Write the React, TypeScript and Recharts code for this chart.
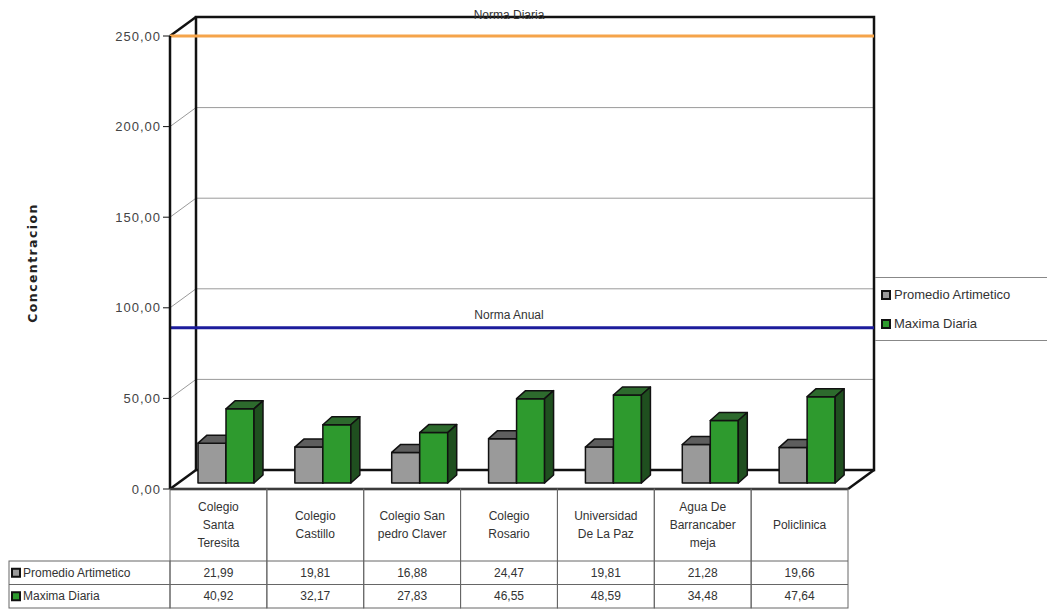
import React from "react";
import {
  BarChart,
  Bar,
  XAxis,
  YAxis,
  CartesianGrid,
  ReferenceLine,
  ReferenceArea,
  Legend,
} from "recharts";

const categories = [
  "Colegio Santa Teresita",
  "Colegio Castillo",
  "Colegio San pedro Claver",
  "Colegio Rosario",
  "Universidad De La Paz",
  "Agua De Barrancabermeja",
  "Policlinica",
];
const categoryLines = [
  ["Colegio", "Santa", "Teresita"],
  ["Colegio", "Castillo"],
  ["Colegio San", "pedro Claver"],
  ["Colegio", "Rosario"],
  ["Universidad", "De La Paz"],
  ["Agua De", "Barrancaber", "meja"],
  ["Policlinica"],
];
const seriesNames = ["Promedio Artimetico", "Maxima Diaria"];
const promedio = [21.99, 19.81, 16.88, 24.47, 19.81, 21.28, 19.66];
const maxima = [40.92, 32.17, 27.83, 46.55, 48.59, 34.48, 47.64];
const yTicks = [0, 50, 100, 150, 200, 250];
const normaDiaria = 250;
const normaAnual = 89;

const data = categories.map((name, i) => ({
  name,
  promedio: promedio[i],
  maxima: maxima[i],
}));

// depth of the back wall and of the bars
const WX = 26;
const WY = -19;
const SX = 8;
const SY = -6;
const DX = 9;
const DY = -8;

const FONT = "'Liberation Sans', Arial, sans-serif";
const fmt = (v: number) => v.toFixed(2).replace(".", ",");

const make3D = (front: string, top: string, side: string) => (props: any) => {
  const { x, y, width, height } = props;
  if (height == null || width == null) return <g />;
  const fx = x + SX;
  const fy = y + SY;
  return (
    <g stroke="#111" strokeWidth={1.5} strokeLinejoin="round">
      <rect x={fx} y={fy} width={width} height={height} fill={front} />
      <polygon
        points={`${fx},${fy} ${fx + DX},${fy + DY} ${fx + width + DX},${fy + DY} ${fx + width},${fy}`}
        fill={top}
      />
      <polygon
        points={`${fx + width},${fy} ${fx + width + DX},${fy + DY} ${fx + width + DX},${fy + height + DY} ${fx + width},${fy + height}`}
        fill={side}
      />
    </g>
  );
};

const Frame = (props: any) => {
  const { x, y, width, height } = props;
  const b = y + height;
  const r = x + width;
  return (
    <g stroke="#111" strokeWidth={2.5} fill="none">
      <polyline
        points={`${x + WX},${b + WY} ${x + WX},${y + WY} ${r + WX},${y + WY} ${r + WX},${b + WY} ${x + WX},${b + WY}`}
      />
      <line x1={x} y1={y} x2={x + WX} y2={y + WY} />
      <line x1={x} y1={b} x2={x + WX} y2={b + WY} />
      <line x1={r} y1={b} x2={r + WX} y2={b + WY} />
    </g>
  );
};

const GridLine = (props: any) => {
  const { x1, y1, x2, y2 } = props;
  return (
    <g stroke="#9a9a9a" strokeWidth={1}>
      <line x1={x1 + WX} y1={y1 + WY} x2={x2 + WX} y2={y2 + WY} />
      <line x1={x1} y1={y1} x2={x1 + WX} y2={y1 + WY} />
    </g>
  );
};

const normLine = (color: string) => (props: any) => {
  const { x1, y1, x2, y2 } = props;
  return <line x1={x1} y1={y1} x2={x2 + WX} y2={y2} stroke={color} strokeWidth={3} />;
};

const TableCell = (props: any) => {
  const { x, y, index, width } = props;
  const n = categories.length;
  const cw = (width || 678) / n;
  const left = x - cw / 2;
  const headH = 72;
  const rowH = 23.5;
  const lines = categoryLines[index] || [];
  const lh = 18;
  const startY = y + headH / 2 - ((lines.length - 1) * lh) / 2;
  const line = "#666";
  return (
    <g fontFamily={FONT} fontSize={12} fill="#333">
      <rect x={left} y={y} width={cw} height={headH + rowH * 2} fill="none" stroke={line} />
      <line x1={left} x2={left + cw} y1={y + headH} y2={y + headH} stroke={line} />
      <line x1={left} x2={left + cw} y1={y + headH + rowH} y2={y + headH + rowH} stroke={line} />
      {lines.map((t, k) => (
        <text key={k} x={x} y={startY + k * lh} textAnchor="middle" dominantBaseline="central" stroke="none">
          {t}
        </text>
      ))}
      <text x={x} y={y + headH + rowH / 2} textAnchor="middle" dominantBaseline="central" stroke="none">
        {fmt(promedio[index])}
      </text>
      <text x={x} y={y + headH + rowH * 1.5} textAnchor="middle" dominantBaseline="central" stroke="none">
        {fmt(maxima[index])}
      </text>
      {index === 0 && (
        <g>
          <rect x={9} y={y + headH} width={left - 9} height={rowH * 2} fill="none" stroke={line} />
          <line x1={9} x2={left} y1={y + headH + rowH} y2={y + headH + rowH} stroke={line} />
          <rect x={12} y={y + headH + rowH / 2 - 4} width={8} height={8} fill="#9a9a9a" stroke="#111" strokeWidth={2} />
          <rect x={12} y={y + headH + rowH * 1.5 - 4} width={8} height={8} fill="#2e9a2e" stroke="#111" strokeWidth={2} />
          <text x={23} y={y + headH + rowH / 2} dominantBaseline="central" stroke="none">
            {seriesNames[0]}
          </text>
          <text x={23} y={y + headH + rowH * 1.5} dominantBaseline="central" stroke="none">
            {seriesNames[1]}
          </text>
        </g>
      )}
    </g>
  );
};

const renderLegend = (props: any) => {
  const { payload = [] } = props;
  const items = seriesNames
    .map((n) => payload.find((p: any) => p.value === n))
    .filter(Boolean);
  return (
    <div
      style={{
        borderTop: "1px solid #888",
        borderBottom: "1px solid #888",
        height: 64,
        display: "flex",
        flexDirection: "column",
        justifyContent: "space-around",
        padding: "2px 0 2px 6px",
        boxSizing: "border-box",
        fontFamily: FONT,
        fontSize: 13,
        color: "#333",
      }}
    >
      {items.map((p: any) => (
        <div key={p.value} style={{ display: "flex", alignItems: "center" }}>
          <span
            style={{
              display: "inline-block",
              width: 6,
              height: 6,
              border: "2px solid #111",
              background: p.color,
              marginRight: 3,
            }}
          />
          {p.value}
        </div>
      ))}
    </div>
  );
};

export default function App() {
  return (
    <div style={{ position: "absolute", left: 0, top: 0, width: 1047, height: 609, background: "#fff" }}>
      <BarChart
        width={1047}
        height={609}
        data={data}
        margin={{ top: 36, right: 199, bottom: 0, left: 10 }}
        barSize={28}
        barGap={0}
      >
        <CartesianGrid vertical={false} horizontalValues={[50, 100, 150, 200]} horizontal={GridLine} />
        <ReferenceArea y1={0} y2={250} shape={Frame} ifOverflow="visible" />
        <XAxis
          dataKey="name"
          height={120}
          tickSize={0}
          tickMargin={0}
          tickLine={false}
          axisLine={{ stroke: "#111", strokeWidth: 2.5 }}
          tick={(p: any) => <TableCell {...p} />}
          interval={0}
        />
        <YAxis
          width={160}
          domain={[0, 250]}
          ticks={yTicks}
          tickFormatter={fmt}
          tickSize={7}
          axisLine={{ stroke: "#111", strokeWidth: 2.5 }}
          tickLine={{ stroke: "#111" }}
          tick={{ fill: "#444", fontSize: 13, fontFamily: FONT, letterSpacing: 1 }}
          label={() => (
            <text
              x={37}
              y={263}
              transform="rotate(-90 37 263)"
              textAnchor="middle"
              fontFamily="'DejaVu Sans', sans-serif"
              fontWeight="bold"
              fontSize={12.5}
              letterSpacing={1.4}
              fill="#222"
            >
              Concentracion
            </text>
          )}
        />
        <ReferenceLine
          y={normaDiaria}
          shape={normLine("#f5a44a")}
          ifOverflow="visible"
          label={{ value: "Norma Diaria", position: "top", offset: 17, fill: "#333", fontSize: 12, fontFamily: FONT }}
        />
        <ReferenceLine
          y={normaAnual}
          shape={normLine("#1c1c9c")}
          ifOverflow="visible"
          label={{ value: "Norma Anual", position: "top", offset: 9, fill: "#333", fontSize: 12, fontFamily: FONT }}
        />
        <Legend
          layout="vertical"
          align="center"
          verticalAlign="middle"
          content={renderLegend}
          wrapperStyle={{ position: "absolute", left: 875, top: 277, width: 172, height: 66 }}
        />
        <Bar
          dataKey="promedio"
          name={seriesNames[0]}
          fill="#9a9a9a"
          shape={make3D("#9a9a9a", "#5e5e5e", "#4a4a4a")}
          isAnimationActive={false}
        />
        <Bar
          dataKey="maxima"
          name={seriesNames[1]}
          fill="#2e9a2e"
          shape={make3D("#2e9a2e", "#2d6a2d", "#1f4f1f")}
          isAnimationActive={false}
        />
      </BarChart>
    </div>
  );
}
